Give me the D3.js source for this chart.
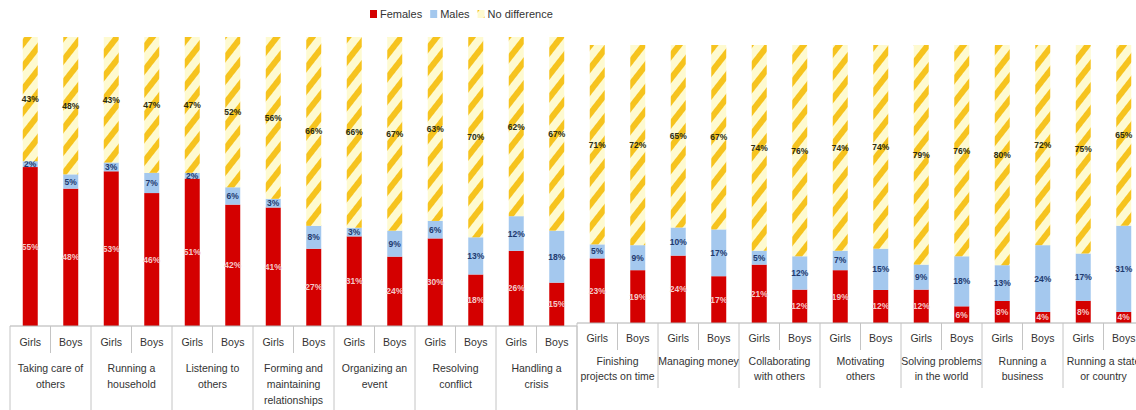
<!DOCTYPE html>
<html><head><meta charset="utf-8">
<script src="https://cdn.jsdelivr.net/npm/d3@7/dist/d3.min.js"></script>
<style>
body{margin:0;background:#fff;}
svg{display:block;font-family:"Liberation Sans",Arial,sans-serif;}
</style></head>
<body><svg id="c" width="1136" height="410"></svg>
<script>
const categories = ["Taking care of\nothers","Running a\nhousehold","Listening to\nothers","Forming and\nmaintaining\nrelationships","Organizing an\nevent","Resolving\nconflict","Handling a\ncrisis","Finishing\nprojects on time","Managing money","Collaborating\nwith others","Motivating\nothers","Solving problems\nin the world","Running a\nbusiness","Running a state\nor country"];
const groups = ["Girls","Boys"];
const seriesNames = ["Females","Males","No difference"];
// values in order: cat0 Girls, cat0 Boys, cat1 Girls, ...
const females = [55,48, 53,46, 51,42, 41,27, 31,24, 30,18, 26,15, 23,19, 24,17, 21,12, 19,12, 12,6, 8,4, 8,4];
const males   = [2,5, 3,7, 2,6, 3,8, 3,9, 6,13, 12,18, 5,9, 10,17, 5,12, 7,15, 9,18, 13,24, 17,31];
const noDiff  = [43,48, 43,47, 47,52, 56,66, 66,67, 63,70, 62,67, 71,72, 65,67, 74,76, 74,74, 79,76, 80,72, 75,65];

const svg = d3.select("#c");
const defs = svg.append("defs");
const pat = defs.append("pattern").attr("id","hatch").attr("patternUnits","userSpaceOnUse")
  .attr("width",14).attr("height",14).attr("patternTransform","rotate(38)");
pat.append("rect").attr("width",14).attr("height",14).attr("fill","#fefad0");
pat.append("rect").attr("x",0).attr("width",6).attr("height",14).attr("fill","#f6c31e");

const colors = {Females:"#d40000", Males:"#a4c8ee"};
const labelColors = {Females:"#f3c9c9", Males:"#1f3a6e", "No difference":"#2b2b10"};

const rows = categories.flatMap((c,i)=>groups.map((g,j)=>{
  const k=i*2+j;
  return {cat:i, group:g, key:i+"-"+g, Females:females[k], Males:males[k], "No difference":noDiff[k]};
}));
rows.forEach(r=>{r.total=r.Females+r.Males+r["No difference"];});

const panels = [
  {cats:[0,1,2,3,4,5,6], x0:10, w:567, base:326, top:37, lab:[20,46,62], tick:27, sepEnd:410},
  {cats:[7,8,9,10,11,12,13], x0:577, w:567, base:323, top:45, lab:[19,42,57], tick:27, sepEnd:388}
];

const stack = d3.stack().keys(seriesNames).value((d,k)=>d[k]/d.total);

panels.forEach(p=>{
  const data = rows.filter(r=>p.cats.includes(r.cat));
  const x = d3.scaleBand().domain(data.map(d=>d.key)).range([p.x0,p.x0+p.w]).paddingInner(0.63).paddingOuter(0.315);
  const xc = d3.scaleBand().domain(p.cats).range([p.x0,p.x0+p.w]);
  const y = d3.scaleLinear().domain([0,1]).range([p.base,p.top]);
  const g = svg.append("g");
  const st = stack(data);
  st.forEach(s=>{
    const name=s.key;
    g.selectAll(null).data(s).join("rect")
      .attr("x",d=>x(d.data.key)).attr("width",x.bandwidth())
      .attr("y",d=>y(d[1])).attr("height",d=>y(d[0])-y(d[1]))
      .attr("fill",name==="No difference"?"url(#hatch)":colors[name]);
    g.selectAll(null).data(s).join("text")
      .attr("x",d=>x(d.data.key)+x.bandwidth()/2)
      .attr("y",d=>(y(d[0])+y(d[1]))/2+3)
      .attr("text-anchor","middle").attr("font-size",8.5).attr("font-weight","bold")
      .attr("fill",labelColors[name])
      .text(d=>d.data[name]+"%");
  });
  g.append("line").attr("x1",p.x0).attr("x2",p.x0+p.w).attr("y1",p.base).attr("y2",p.base)
    .attr("stroke","#b0b0b0").attr("stroke-width",1);
  const edges = p.cats.map(c=>xc(c)).concat([p.x0+p.w]);
  g.selectAll(null).data(edges).join("line")
    .attr("x1",d=>d).attr("x2",d=>d).attr("y1",p.base).attr("y2",(d,i)=>i===0?410:p.sepEnd)
    .attr("stroke","#c4c4c4");
  g.selectAll(null).data(p.cats).join("line")
    .attr("x1",c=>xc(c)+xc.bandwidth()/2).attr("x2",c=>xc(c)+xc.bandwidth()/2)
    .attr("y1",p.base).attr("y2",p.base+p.tick).attr("stroke","#c4c4c4");
  g.selectAll(null).data(data).join("text")
    .attr("x",d=>x(d.key)+x.bandwidth()/2).attr("y",p.base+p.lab[0])
    .attr("text-anchor","middle").attr("font-size",10.5).attr("fill","#333")
    .text(d=>d.group);
  p.cats.forEach(c=>{
    const lines = categories[c].split("\n");
    const t = g.append("text").attr("text-anchor","middle").attr("font-size",10.5).attr("fill","#333");
    lines.forEach((ln,i)=>{
      t.append("tspan").attr("x",xc(c)+xc.bandwidth()/2).attr("y",p.base+p.lab[1]+i*(p.lab[2]-p.lab[1])).text(ln);
    });
  });
});

const legend = svg.append("g").attr("font-size",11).attr("fill","#333");
let lx = 370;
seriesNames.forEach(n=>{
  legend.append("rect").attr("x",lx).attr("y",10).attr("width",7).attr("height",8)
    .attr("fill",n==="No difference"?"url(#hatch)":colors[n]);
  const t = legend.append("text").attr("x",lx+10).attr("y",18).text(n);
  lx += 10 + t.node().getComputedTextLength() + 8;
});
</script></body></html>
